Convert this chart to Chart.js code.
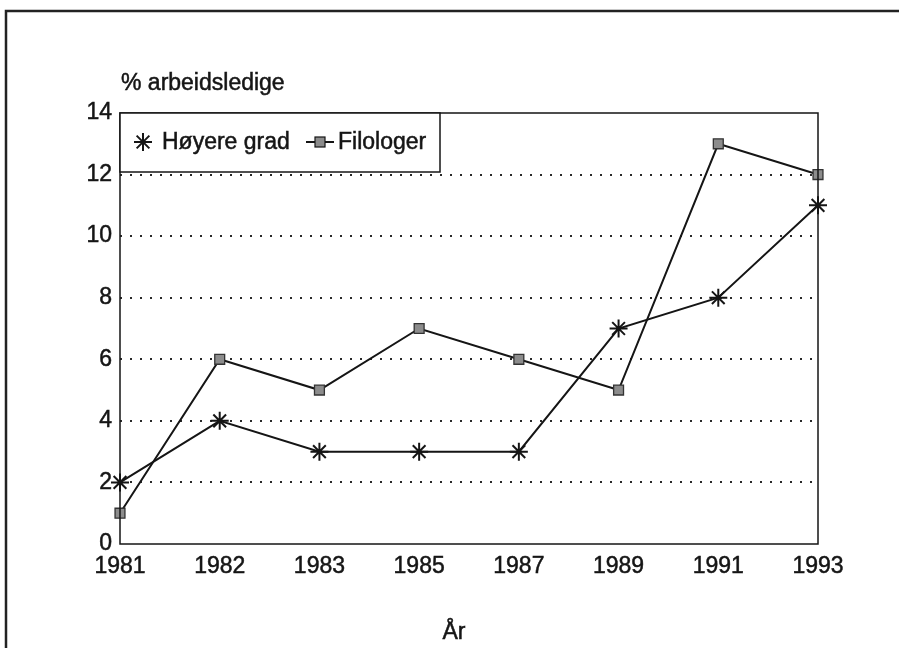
<!DOCTYPE html>
<html>
<head>
<meta charset="utf-8">
<script src="https://cdn.jsdelivr.net/npm/chart.js@4.4.0/dist/chart.umd.min.js"></script>
<style>
  html, body { margin: 0; padding: 0; background: #fff; }
  #wrap { width: 899px; height: 648px; }
</style>
</head>
<body>
<div id="wrap"><canvas id="unemploymentChart" width="899" height="648"></canvas></div>
<script>
// data
const years = ['1981', '1982', '1983', '1985', '1987', '1989', '1991', '1993'];
const hoyereGrad = [2, 4, 3, 3, 3, 7, 8, 11];
const filologer = [1, 6, 5, 7, 6, 5, 13, 12];
const seriesNames = ['Høyere grad', 'Filologer'];
const yTitle = '% arbeidsledige';
const xTitle = 'År';

const FONT = '"Liberation Sans", Arial, Helvetica, sans-serif';
const FONT_SIZE = 23;
const INK = '#151515';

function boldText(c, txt, x, y) {
    c.lineWidth = 0.5;
    c.strokeStyle = INK;
    c.strokeText(txt, x, y);
    c.fillText(txt, x, y);
}

// frame, plot box, titles and legend box
const decorations = {
    id: 'decorations',
    beforeDraw(chart) {
        const c = chart.ctx;
        c.save();
        c.strokeStyle = '#222';
        c.lineWidth = 2.5;
        c.beginPath();
        c.moveTo(899, 11);
        c.lineTo(6, 11);
        c.lineTo(6, 648);
        c.stroke();
        c.restore();
    },
    afterDatasetsDraw(chart) {
        const c = chart.ctx;
        const a = chart.chartArea;
        c.save();
        // plot box
        c.strokeStyle = INK;
        c.lineWidth = 1.5;
        c.strokeRect(a.left, a.top, a.right - a.left, a.bottom - a.top);

        // axis titles
        c.fillStyle = INK;
        c.font = FONT_SIZE + 'px ' + FONT;
        c.textBaseline = 'middle';
        c.textAlign = 'left';
        boldText(c, yTitle, a.left + 1, 84);
        c.textAlign = 'center';
        boldText(c, xTitle, 454, 633);

        // legend
        const lx = a.left, ly = a.top, lw = 320, lh = 59;
        c.fillStyle = '#fff';
        c.fillRect(lx, ly, lw, lh);
        c.lineWidth = 1.5;
        c.strokeStyle = INK;
        c.strokeRect(lx, ly, lw, lh);
        const my = ly + 29;
        // star symbol
        c.lineWidth = 2;
        const sx = lx + 23, r = 9;
        c.beginPath();
        for (let i = 0; i < 4; i++) {
            const ang = i * Math.PI / 4;
            c.moveTo(sx - r * Math.cos(ang), my - r * Math.sin(ang));
            c.lineTo(sx + r * Math.cos(ang), my + r * Math.sin(ang));
        }
        c.stroke();
        c.fillStyle = INK;
        c.textAlign = 'left';
        boldText(c, seriesNames[0], lx + 42, my + 1);
        // line + square symbol
        c.lineWidth = 2;
        c.beginPath();
        c.moveTo(lx + 186, my);
        c.lineTo(lx + 214, my);
        c.stroke();
        c.fillStyle = '#8c8c8c';
        c.fillRect(lx + 195, my - 5, 10, 10);
        c.lineWidth = 1.2;
        c.strokeRect(lx + 195, my - 5, 10, 10);
        c.fillStyle = INK;
        boldText(c, seriesNames[1], lx + 218, my + 1);
        c.restore();
    }
};

const tickFont = { family: FONT, size: FONT_SIZE };

const ctx = document.getElementById('unemploymentChart').getContext('2d');
const chart = new Chart(ctx, {
    type: 'line',
    data: {
        labels: years,
        datasets: [{
            label: seriesNames[0],
            data: hoyereGrad,
            borderColor: INK,
            borderWidth: 2,
            pointStyle: 'star',
            pointRadius: 9,
            pointBorderWidth: 2,
            pointBorderColor: INK,
            pointBackgroundColor: INK,
            tension: 0,
            clip: false
        }, {
            label: seriesNames[1],
            data: filologer,
            borderColor: INK,
            borderWidth: 2,
            pointStyle: 'rect',
            pointRadius: 7,
            pointBorderWidth: 1.3,
            pointBorderColor: '#333',
            pointBackgroundColor: '#8c8c8c',
            tension: 0,
            clip: false
        }]
    },
    options: {
        responsive: false,
        animation: false,
        layout: { padding: { top: 113, right: 81, bottom: 0, left: 0 } },
        plugins: {
            legend: { display: false },
            tooltip: { enabled: false }
        },
        scales: {
            x: {
                offset: false,
                grid: { display: false, drawTicks: false },
                border: { display: false },
                ticks: {
                    color: INK,
                    padding: 9,
                    maxRotation: 0,
                    textStrokeColor: INK,
                    textStrokeWidth: 0.5,
                    font: tickFont
                },
                afterFit(scale) { scale.height = 104; }
            },
            y: {
                min: 0,
                max: 14,
                grid: {
                    drawTicks: false,
                    color: c => (c.tick.value > 0 && c.tick.value < 14) ? '#2a2a2a' : 'rgba(0,0,0,0)',
                    lineWidth: 2
                },
                border: { display: false, dash: [2, 8] },
                ticks: {
                    stepSize: 2,
                    color: INK,
                    padding: 8,
                    textStrokeColor: INK,
                    textStrokeWidth: 0.5,
                    font: tickFont
                },
                afterFit(scale) { scale.width = 120; }
            }
        }
    },
    plugins: [decorations]
});
</script>
</body>
</html>
